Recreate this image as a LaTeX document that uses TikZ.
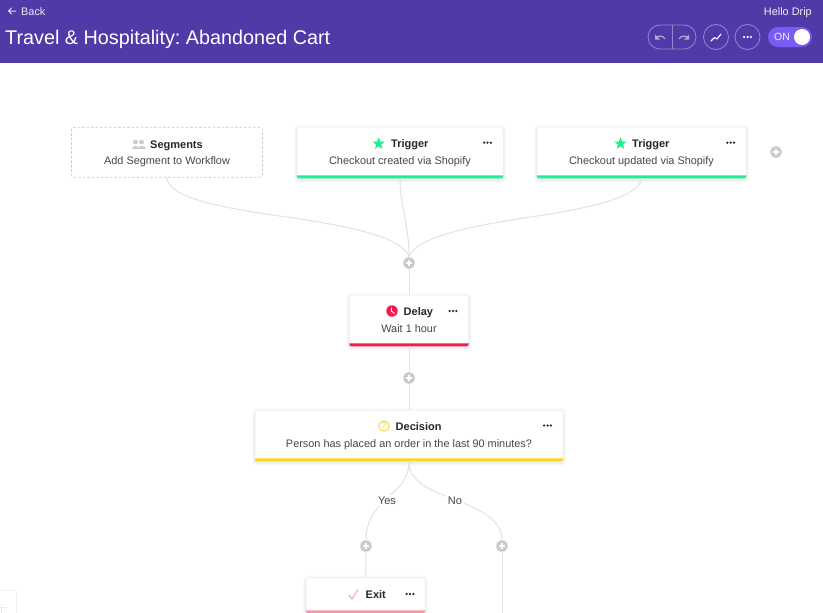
\documentclass[tikz,border=0pt]{standalone}
\usepackage{fontspec}
\setmainfont{Liberation Sans}
\usetikzlibrary{shapes.geometric,calc}
\definecolor{hdr}{RGB}{80,58,168}
\definecolor{ink}{RGB}{40,40,44}
\definecolor{sub}{RGB}{70,70,74}
\definecolor{wire}{RGB}{226,226,226}
\definecolor{plusc}{RGB}{202,202,202}
\definecolor{grn}{RGB}{30,240,145}
\definecolor{redc}{RGB}{240,30,75}
\definecolor{yel}{RGB}{252,215,30}
\definecolor{pnk}{RGB}{250,150,170}
\definecolor{tog}{RGB}{122,92,245}
\definecolor{hline}{RGB}{150,135,205}
\pgfdeclarelayer{bg}
\pgfsetlayers{bg,main}
\tikzset{
  x=1pt,y=-1pt,
  card/.style={draw=black!7,line width=.5pt,fill=white,rounded corners=2.5pt,inner sep=0pt},
  dashcard/.style={draw=black!22,line width=.6pt,dash pattern=on 2.5pt off 2pt,fill=white,rounded corners=2.5pt,inner sep=0pt},
  wirel/.style={draw=wire,line width=1pt},
  plusn/.style={circle,fill=plusc,minimum size=11.5pt,inner sep=0pt,
    path picture={\draw[white,line width=1.1pt] ([xshift=-2.6pt]path picture bounding box.center)--([xshift=2.6pt]path picture bounding box.center);
    \draw[white,line width=1.1pt] ([yshift=-2.6pt]path picture bounding box.center)--([yshift=2.6pt]path picture bounding box.center);}},
  ttl/.style={font=\fontsize{11}{14}\selectfont\bfseries,text=ink,inner sep=0pt,anchor=base west},
  subt/.style={font=\fontsize{10.9}{14}\selectfont,text=sub,inner sep=0pt,anchor=base},
  hdrt/.style={text=white,inner sep=0pt},
  dotn/.style={circle,fill=#1,minimum size=2.5pt,inner sep=0pt},
  stern/.style={star,star points=5,star point ratio=2.4,fill=grn,minimum size=13pt,inner sep=0pt},
  ring/.style={circle,draw=hline,line width=.8pt,minimum size=25pt,inner sep=0pt},
}
\newcommand{\threedots}[3]{\node[dotn=#3] at (#1-3.3,#2) {};\node[dotn=#3] at (#1,#2) {};\node[dotn=#3] at (#1+3.3,#2) {};}
\newcommand{\stripe}[2]{\fill[#2,rounded corners=2.5pt] ($(#1.south west)+(0,-3)$) [sharp corners] -- ($(#1.south east)+(0,-3)$) [rounded corners=2.5pt] -- (#1.south east) -- (#1.south west) [sharp corners] -- cycle;}
\newcommand{\softshadow}[1]{\begin{pgfonlayer}{bg}
  \foreach \e/\o in {3/.015,2/.02,1/.03}{
    \fill[black,opacity=\o,rounded corners=4pt] ($(#1.north west)+(-\e,-\e+1.5)$) rectangle ($(#1.south east)+(\e,\e+1.5)$);}
\end{pgfonlayer}}
\begin{document}
\frenchspacing
\begin{tikzpicture}
\useasboundingbox (0,0) rectangle (823,613);
\begin{pgfonlayer}{bg}\fill[white] (0,0) rectangle (823,613);\end{pgfonlayer}
% faint corner box
\draw[black!5,line width=.7pt] (-1,590) -- (16,590) -- (16,614);
\draw[black!8,line width=1pt] (0,607.5) -- (6,607.5);
\draw[black!8,line width=1pt] (1,604) -- (1,613);
% header
\fill[hdr] (0,0) rectangle (823,63);
\draw[white!85!hdr,line width=1pt,line cap=round,line join=round] (15.5,11) -- (8.5,11) (11.5,8) -- (8.5,11) -- (11.5,14);
\node[hdrt,anchor=base west,font=\fontsize{10.9}{14}\selectfont,text=white!88!hdr] (back) at (21,15.5) {Back};
\node[hdrt,anchor=base west,font=\fontsize{19.8}{26}\selectfont] (title) at (5,45) {Travel \& Hospitality: Abandoned Cart};
\node[hdrt,anchor=base east,font=\fontsize{10.9}{14}\selectfont,text=white!92!hdr] (hello) at (812,15.5) {Hello Drip};
% undo/redo pill
\draw[hline,line width=.8pt,rounded corners=12pt] (648,25) rectangle (696,49);
\draw[hline,line width=.8pt] (672,25) -- (672,49);
\draw[white!55!hdr,line width=1.2pt] (665,39) .. controls (663,35.5) and (659,35.5) .. (656,37.2);
\fill[white!55!hdr] (655,34.5) -- (655,39.5) -- (660,39.5) -- cycle;
\draw[white!55!hdr,line width=1.2pt] (679,39) .. controls (681,35.5) and (685,35.5) .. (688,37.2);
\fill[white!55!hdr] (689,34.5) -- (689,39.5) -- (684,39.5) -- cycle;
% chart + more
\node[ring] (chart) at (716,37) {};
\draw[white,line width=1.1pt,line join=round,line cap=round] (711,41) -- (714.5,37.5) -- (717,39) -- (721,34);
\node[ring] (more) at (747.5,37) {};
\threedots{747.5}{37}{white}
% toggle
\fill[tog,rounded corners=10pt] (768,27) rectangle (812,47);
\node[hdrt,font=\fontsize{10.5}{12}\selectfont,text=white!88!tog] (on) at (782,37) {ON};
\node[circle,fill=white,minimum size=16pt,inner sep=0pt] (knob) at (802,37) {};
% cards
\node[dashcard,minimum width=191pt,minimum height=50pt] (seg) at (167,152.2) {};
\node[card,minimum width=206pt,minimum height=51pt] (t1) at (400,152.7) {};
\node[card,minimum width=209pt,minimum height=51pt] (t2) at (641.5,152.7) {};
\node[card,minimum width=119pt,minimum height=51pt] (delay) at (409,320.7) {};
\node[card,minimum width=308pt,minimum height=51pt] (dec) at (409,435.7) {};
\node[card,minimum width=119pt,minimum height=35.4pt] (exit) at (365.5,595.3) {};
\softshadow{t1}\softshadow{t2}\softshadow{delay}\softshadow{dec}\softshadow{exit}
\stripe{t1}{grn}
\stripe{t2}{grn}
\stripe{delay}{redc}
\stripe{dec}{yel}
\stripe{exit}{pnk}
% plus nodes
\node[plusn] (p0) at (776,152) {};
\node[plusn] (p1) at (409,263) {};
\node[plusn] (p2) at (409,378) {};
\node[plusn] (p3) at (366,546) {};
\node[plusn] (p4) at (502,546) {};
\coordinate (pend) at (502,613);
% connectors
\draw[wirel] (seg.south) .. controls (168,197) and (215,207) .. (290,217.5) .. controls (355,227) and (403,238) .. (p1.north);
\draw[wirel] (t1.south) .. controls (400,207) and (409,222) .. (p1.north);
\draw[wirel] (t2.south) .. controls (640,195) and (600,207) .. (530,217) .. controls (465,227) and (415,238) .. (p1.north);
\draw[wirel] (p1) -- (delay);
\draw[wirel] (delay) -- (p2);
\draw[wirel] (p2) -- (dec);
\draw[wirel] (dec.south) .. controls (409,480) and (398,488) .. (388,497) .. controls (375,510) and (366,520) .. (p3.north);
\draw[wirel] (dec.south) .. controls (409,482) and (430,490) .. (455,500) .. controls (482,510) and (502,520) .. (p4.north);
\draw[wirel] (p3) -- (exit);
\draw[wirel] (p4) -- (pend);
\node[fill=white,inner sep=1.5pt,font=\fontsize{11}{14}\selectfont,text=sub] (yes) at (387,500.5) {Yes};
\node[fill=white,inner sep=1.5pt,font=\fontsize{11}{14}\selectfont,text=sub] (no) at (455,500.5) {No};
% Segments text
\node[ttl] (segt) at (150,148) {Segments};
\node[subt] (segs) at (167,164.3) {Add Segment to Workflow};
\fill[black!20] (135.5,142) circle (2.4);
\fill[black!20] (141.5,142) circle (2.4);
\fill[black!20] (132,149) .. controls (132,144.5) and (139,144.5) .. (139,149) -- cycle;
\fill[black!20] (138,149) .. controls (138,144.5) and (145.5,144.5) .. (145.5,149) -- cycle;
% Trigger 1
\node[stern] (s1) at (378.7,143.7) {};
\node[ttl] (t1t) at (391,147.7) {Trigger};
\node[subt] (t1s) at (400,164) {Checkout created via Shopify};
\threedots{487.5}{142.7}{ink}
% Trigger 2
\node[stern] (s2) at (620.5,143.7) {};
\node[ttl] (t2t) at (632,147.7) {Trigger};
\node[subt] (t2s) at (641.5,164) {Checkout updated via Shopify};
\threedots{730.7}{142.7}{ink}
% Delay
\node[circle,fill=redc,minimum size=11.5pt,inner sep=0pt] (clk) at (392,311) {};
\draw[white,line width=.9pt] (391.5,307.5) -- (391.5,311) -- (394.5,313.5);
\node[ttl] (dt) at (403.5,315.7) {Delay};
\node[subt] (ds) at (409,332) {Wait 1 hour};
\threedots{453}{311}{ink}
% Decision
\node[circle,draw=yel,line width=.9pt,minimum size=10.5pt,inner sep=0pt,font=\fontsize{8.5}{9}\selectfont,text=yel] (q) at (384,426) {?};
\node[ttl] (dect) at (395.5,430.7) {Decision};
\node[subt] (decs) at (409,447) {Person has placed an order in the last 90 minutes?};
\threedots{547.5}{425.5}{ink}
% Exit
\draw[pnk,line width=.9pt,line join=round] (349,595) -- (352,599) -- (358,589.5);
\node[ttl] (et) at (365.5,598.7) {Exit};
\threedots{410}{594}{ink}
\end{tikzpicture}
\end{document}
